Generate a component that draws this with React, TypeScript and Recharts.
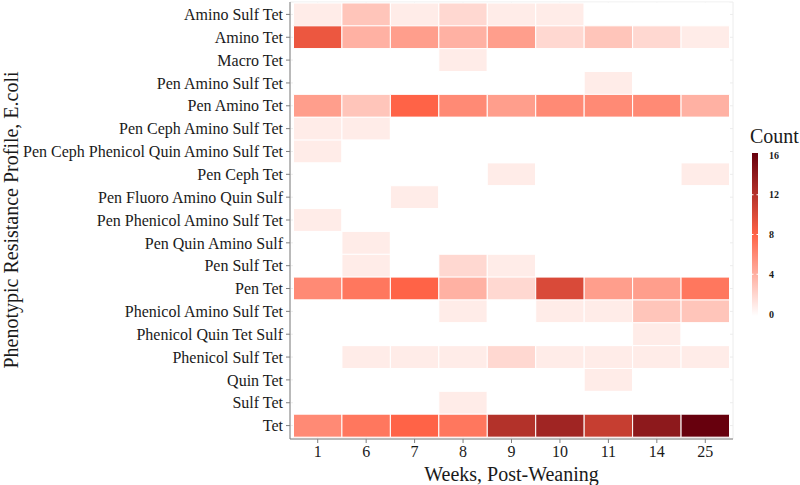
import { BarChart, Bar, XAxis, YAxis, CartesianGrid, Cell } from 'recharts';

const weeks = ['1', '6', '7', '8', '9', '10', '11', '14', '25'];

const profiles = [
  'Amino Sulf Tet',
  'Amino Tet',
  'Macro Tet',
  'Pen Amino Sulf Tet',
  'Pen Amino Tet',
  'Pen Ceph Amino Sulf Tet',
  'Pen Ceph Phenicol Quin Amino Sulf Tet',
  'Pen Ceph Tet',
  'Pen Fluoro Amino Quin Sulf',
  'Pen Phenicol Amino Sulf Tet',
  'Pen Quin Amino Sulf',
  'Pen Sulf Tet',
  'Pen Tet',
  'Phenicol Amino Sulf Tet',
  'Phenicol Quin Tet Sulf',
  'Phenicol Sulf Tet',
  'Quin Tet',
  'Sulf Tet',
  'Tet',
];

// one row per profile, one value per week
const counts = [
  [1, 3, 1, 2, 1, 1, 0, 0, 0],
  [9, 4, 5, 4, 5, 2, 3, 2, 1],
  [0, 0, 0, 1, 0, 0, 0, 0, 0],
  [0, 0, 0, 0, 0, 0, 1, 0, 0],
  [5, 3, 8, 6, 5, 6, 6, 6, 4],
  [1, 1, 0, 0, 0, 0, 0, 0, 0],
  [1, 0, 0, 0, 0, 0, 0, 0, 0],
  [0, 0, 0, 0, 1, 0, 0, 0, 1],
  [0, 0, 1, 0, 0, 0, 0, 0, 0],
  [1, 0, 0, 0, 0, 0, 0, 0, 0],
  [0, 1, 0, 0, 0, 0, 0, 0, 0],
  [0, 1, 0, 2, 1, 0, 0, 0, 0],
  [6, 7, 8, 4, 2, 10, 5, 5, 7],
  [0, 0, 0, 1, 0, 1, 1, 3, 3],
  [0, 0, 0, 0, 0, 0, 0, 1, 0],
  [0, 1, 1, 1, 2, 1, 1, 1, 1],
  [0, 0, 0, 0, 0, 0, 1, 0, 0],
  [0, 0, 0, 1, 0, 0, 0, 0, 0],
  [6, 7, 8, 7, 12, 13, 11, 14, 16],
];

const legendTicks = [0, 4, 8, 12, 16];

const colorStops: [number, string][] = [
  [0, '#ffffff'],
  [8, '#ff6347'],
  [16, '#67000d'],
];

const FONT = "'Liberation Serif', 'Times New Roman', serif";

function hexToRgb(h: string) {
  const n = parseInt(h.slice(1), 16);
  return [(n >> 16) & 255, (n >> 8) & 255, n & 255];
}

function fillFor(v: number) {
  for (let i = 1; i < colorStops.length; i++) {
    const [v0, c0] = colorStops[i - 1];
    const [v1, c1] = colorStops[i];
    if (v <= v1) {
      const t = (v - v0) / (v1 - v0);
      const a = hexToRgb(c0);
      const b = hexToRgb(c1);
      const rgb = a.map((x, k) => Math.round(x + (b[k] - x) * t));
      return `rgb(${rgb.join(',')})`;
    }
  }
  return colorStops[colorStops.length - 1][1];
}

// each tile is one unit wide, stacked along the week axis
const data = profiles.map((p) => {
  const row: Record<string, string | number> = { profile: p };
  weeks.forEach((w) => {
    row['w' + w] = 1;
  });
  return row;
});

const frame = '#7f7f7f';

function CountLegend() {
  const top = 155;
  const bottom = 314;
  const maxV = legendTicks[legendTicks.length - 1];
  const ly = (v: number) => bottom - (v / maxV) * (bottom - top);
  return (
    <svg
      width={800}
      height={485}
      style={{ position: 'absolute', left: 0, top: 0, pointerEvents: 'none', fontFamily: FONT }}
    >
      <defs>
        <linearGradient id="countGrad" x1="0" y1="1" x2="0" y2="0">
          {colorStops.map(([v, c]) => (
            <stop key={v} offset={v / maxV} stopColor={c} />
          ))}
        </linearGradient>
      </defs>
      <text x={750} y={143} fontSize={20} fill="#1a1a1a">
        Count
      </text>
      <rect x={752} y={ly(maxV) - 2} width={6} height={bottom - top + 4} fill="url(#countGrad)" />
      {legendTicks.map((v) => (
        <g key={v}>
          {v > 0 && v < maxV && (
            <>
              <line x1={752} x2={753.5} y1={ly(v)} y2={ly(v)} stroke="#fff" strokeWidth={1} />
              <line x1={756.5} x2={758} y1={ly(v)} y2={ly(v)} stroke="#fff" strokeWidth={1} />
            </>
          )}
          <text x={769} y={ly(v)} dy="0.35em" fontSize={10} fontWeight="bold" fill="#1a1a1a">
            {v}
          </text>
        </g>
      ))}
      <text
        x={18}
        y={220}
        fontSize={20}
        fill="#1a1a1a"
        textAnchor="middle"
        transform="rotate(-90, 18, 220)"
      >
        Phenotypic Resistance Profile, E.coli
      </text>
    </svg>
  );
}

export default function App() {
  return (
    <div style={{ position: 'absolute', left: 0, top: 0, width: 800, height: 485, fontFamily: FONT, background: '#fff' }}>
      <BarChart
        width={800}
        height={485}
        data={data}
        layout="vertical"
        margin={{ top: 2, right: 67, bottom: 0, left: 0 }}
        barCategoryGap={0}
        barGap={0}
      >
        <CartesianGrid stroke="#ececec" />
        <XAxis
          type="number"
          domain={[-0.072, weeks.length + 0.072]}
          allowDataOverflow
          ticks={weeks.map((_, i) => i + 0.5)}
          tickFormatter={(v: number) => weeks[Math.round(v - 0.5)]}
          interval={0}
          height={46}
          tickSize={4}
          tickMargin={3}
          tick={{ fontSize: 16, fill: '#1a1a1a' }}
          tickLine={{ stroke: frame }}
          axisLine={{ stroke: frame }}
          label={{ value: 'Weeks, Post-Weaning', position: 'insideBottom', offset: 4, fontSize: 20, fill: '#1a1a1a' }}
        />
        <XAxis
          xAxisId="top"
          orientation="top"
          type="number"
          domain={[-0.072, weeks.length + 0.072]}
          allowDataOverflow
          height={0}
          tick={false}
          tickLine={false}
          axisLine={{ stroke: frame }}
        />
        <YAxis
          type="category"
          dataKey="profile"
          width={290}
          interval={0}
          padding={{ top: 1, bottom: 2 }}
          tickSize={4}
          tickMargin={3}
          tick={{ fontSize: 16, fill: '#1a1a1a' }}
          tickLine={{ stroke: frame }}
          axisLine={{ stroke: frame }}
        />
        <YAxis
          yAxisId="right"
          orientation="right"
          type="category"
          dataKey="profile"
          width={0}
          tick={false}
          tickLine={false}
          axisLine={{ stroke: frame }}
        />
        {weeks.map((w, j) => (
          <Bar
            key={w}
            dataKey={'w' + w}
            stackId="tiles"
            stroke="#ffffff"
            strokeWidth={1}
            isAnimationActive={false}
          >
            {profiles.map((p, i) => (
              <Cell key={p} fill={fillFor(counts[i][j])} />
            ))}
          </Bar>
        ))}
      </BarChart>
      <CountLegend />
    </div>
  );
}
